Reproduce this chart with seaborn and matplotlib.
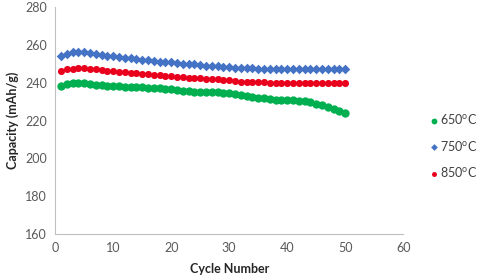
import numpy as np
import pandas as pd
import matplotlib
matplotlib.use("Agg")
import matplotlib.pyplot as plt
import seaborn as sns

cycles = list(range(1, 51))
cap_650 = [238.5, 239.5, 240, 240, 240, 239.5, 239, 239, 238.5, 238,
           238, 237.5, 237.5, 237.5, 237.5, 237, 237, 237, 236.5, 236.5,
           236, 235.5, 235.5, 235, 235, 235, 235, 235, 234.5, 234.5,
           234, 233.5, 233, 232.5, 232, 232, 231.5, 231, 231, 231,
           231, 230.5, 230.5, 230, 229, 228, 227, 226, 225, 224]
cap_750 = [254, 255, 256, 256, 256, 255.5, 255, 254.5, 254, 254,
           253.5, 253, 253, 252.5, 252, 252, 251.5, 251, 251, 251,
           250.5, 250, 250, 250, 249.5, 249, 249, 249, 248.5, 248.5,
           248, 248, 248, 248, 247.5, 247.5, 247.5, 247.5, 247.5, 247,
           247, 247, 247, 247, 247, 247, 247, 247, 247, 247]
cap_850 = [246, 247, 247.5, 248, 248, 247.5, 247, 246.5, 246, 246,
           245.5, 245.5, 245, 245, 244.5, 244.5, 244, 244, 243.5, 243.5,
           243, 243, 242.5, 242.5, 242.5, 242, 242, 242, 241.5, 241.5,
           241, 240.5, 240.5, 240.5, 240.5, 240.5, 240, 240, 240, 240,
           240, 240, 240, 240, 240, 240, 240, 240, 240, 240]
series_labels = ["650$^{o}$C", "750$^{o}$C", "850$^{o}$C"]
x_ticks = [0, 10, 20, 30, 40, 50, 60]
y_ticks = [160, 180, 200, 220, 240, 260, 280]

df = pd.DataFrame({
    "Cycle": cycles * 3,
    "Capacity": cap_650 + cap_750 + cap_850,
    "Series": [series_labels[0]] * 50 + [series_labels[1]] * 50 + [series_labels[2]] * 50,
})

sns.set_style("white")
plt.rcParams["font.family"] = ["Lato", "DejaVu Sans"]
plt.rcParams["mathtext.default"] = "regular"

fig = plt.figure(figsize=(4.8, 2.8), dpi=100)
ax = fig.add_axes([0.115, 0.164, 0.725, 0.811])

palette = {series_labels[0]: "#00B050", series_labels[1]: "#4472C4", series_labels[2]: "#E8001C"}
markers = {series_labels[0]: "o", series_labels[1]: "D", series_labels[2]: "o"}
sizes = {series_labels[0]: 36, series_labels[1]: 24, series_labels[2]: 26}

for lab in series_labels:
    sub = df[df["Series"] == lab]
    sns.scatterplot(data=sub, x="Cycle", y="Capacity", color=palette[lab],
                    marker=markers[lab], s=sizes[lab], linewidth=0,
                    ax=ax, label=lab, legend=False)

ax.set_xlim(0, 60)
ax.set_ylim(160, 280)
ax.set_xticks(x_ticks)
ax.set_yticks(y_ticks)
ax.tick_params(axis="both", labelsize=9, colors="#595959", length=0, pad=6)
for s in ["top", "right"]:
    ax.spines[s].set_visible(False)
for s in ["left", "bottom"]:
    ax.spines[s].set_color("#BFBFBF")
    ax.spines[s].set_linewidth(0.8)

ax.set_xlabel("Cycle Number", fontsize=9, fontweight="bold", color="#262626", labelpad=6)
ax.set_ylabel("Capacity (mAh/g)", fontsize=9, fontweight="bold", color="#262626", labelpad=4)

handles, labels = ax.get_legend_handles_labels()
leg = fig.legend(handles, labels, loc="center right", bbox_to_anchor=(0.995, 0.48),
                 frameon=False, fontsize=9, labelspacing=1.0, handletextpad=0.1,
                 handlelength=0.8, borderpad=0.0, borderaxespad=0.0, markerscale=0.7)
for t in leg.get_texts():
    t.set_color("#404040")

fig.savefig("out.png", dpi=100)
